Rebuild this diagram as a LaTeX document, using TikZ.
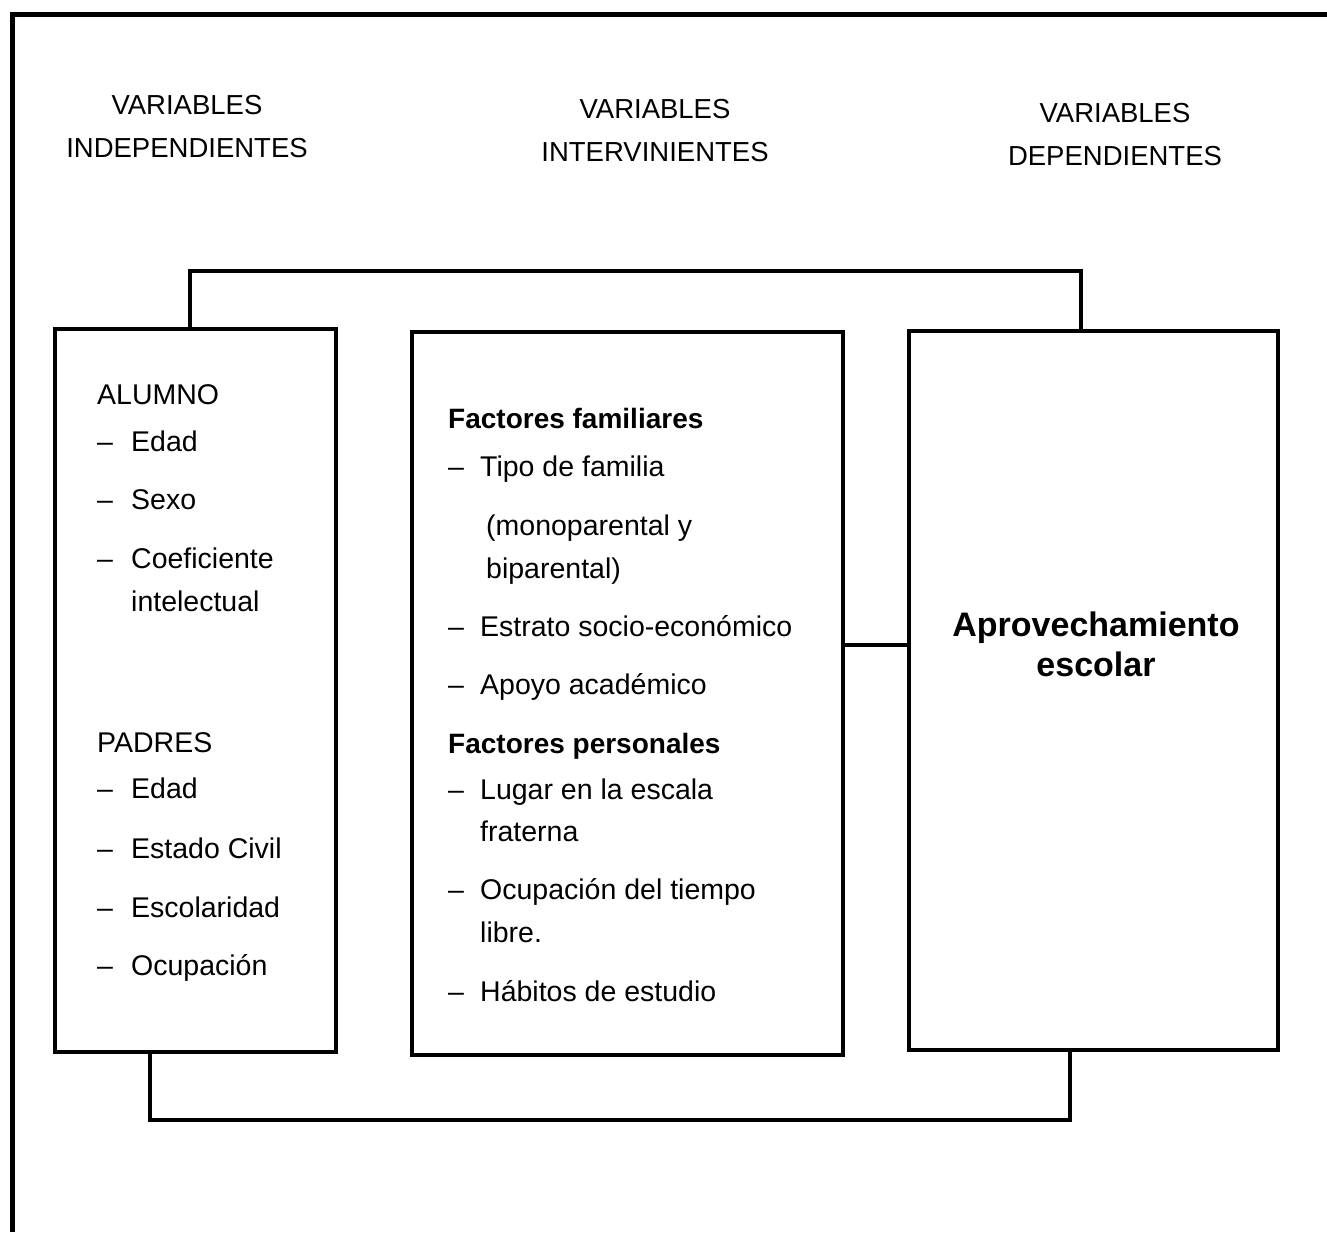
\documentclass[tikz,border=0pt]{standalone}
\usepackage{fontspec}
\setmainfont{Liberation Sans}
\begin{document}
\begin{tikzpicture}[x=1pt,y=-1pt,
  frame/.style={line width=5pt},
  box/.style={draw,line width=4pt,minimum width=#1,inner sep=0pt},
  link/.style={line width=4pt},
  hdr/.style={anchor=base,inner sep=0pt,font=\fontsize{27.5}{33}\selectfont},
  txt/.style={anchor=base west,inner sep=0pt,font=\fontsize{28.5}{34}\selectfont},
  btxt/.style={anchor=base west,inner sep=0pt,font=\fontsize{28}{34}\selectfont\bfseries},
  big/.style={anchor=base,inner sep=0pt,font=\fontsize{34}{40}\selectfont\bfseries}]
\useasboundingbox (0,0) rectangle (1327,1232);
% outer frame (top and left edges)
\draw[frame] (12,1232) -- (12,14) -- (1327,14);
% headers
\node[hdr] (h1a) at (187,114) {VARIABLES};
\node[hdr] (h1b) at (187,157) {INDEPENDIENTES};
\node[hdr] (h2a) at (655,118) {VARIABLES};
\node[hdr] (h2b) at (655,161) {INTERVINIENTES};
\node[hdr] (h3a) at (1115,122) {VARIABLES};
\node[hdr] (h3b) at (1115,165) {DEPENDIENTES};
% boxes
\node[box=281pt,minimum height=723pt] (lb) at (195.5,690.5) {};
\node[box=431pt,minimum height=723pt] (mb) at (627.5,693.5) {};
\node[box=369pt,minimum height=719pt] (rb) at (1093.5,690.5) {};
% connectors
\coordinate (t1) at (190,271);
\coordinate (t2) at (1081,271);
\coordinate (b1) at (150,1120);
\coordinate (b2) at (1070,1120);
\draw[link] (lb.north -| t1) -- (t1) -- (t2) -- (rb.north -| t2);
\draw[link] (lb.south -| b1) -- (b1) -- (b2) -- (rb.south -| b2);
\draw[link] (mb.east |- 0,645) -- (rb.west |- 0,645);
% left box text
\node[txt] (l0) at (97,404) {ALUMNO};
\node[txt] (l1d) at (97,451) {–};
\node[txt] (l1) at (131,451) {Edad};
\node[txt] (l2d) at (97,509) {–};
\node[txt] (l2) at (131,509) {Sexo};
\node[txt] (l3d) at (97,568) {–};
\node[txt] (l3) at (131,568) {Coeficiente};
\node[txt] (l3b) at (131,611) {intelectual};
\node[txt] (l4) at (97,752) {PADRES};
\node[txt] (l5d) at (97,798) {–};
\node[txt] (l5) at (131,798) {Edad};
\node[txt] (l6d) at (97,858) {–};
\node[txt] (l6) at (131,858) {Estado Civil};
\node[txt] (l7d) at (97,917) {–};
\node[txt] (l7) at (131,917) {Escolaridad};
\node[txt] (l8d) at (97,975) {–};
\node[txt] (l8) at (131,975) {Ocupación};
% middle box text
\node[btxt] (m0) at (448,428) {Factores familiares};
\node[txt] (m1d) at (448,476) {–};
\node[txt] (m1) at (480,476) {Tipo de familia};
\node[txt] (m1b) at (486,535) {(monoparental y};
\node[txt] (m1c) at (486,578) {biparental)};
\node[txt] (m2d) at (448,636) {–};
\node[txt] (m2) at (480,636) {Estrato socio-económico};
\node[txt] (m3d) at (448,694) {–};
\node[txt] (m3) at (480,694) {Apoyo académico};
\node[btxt] (m4) at (448,753) {Factores personales};
\node[txt] (m5d) at (448,799) {–};
\node[txt] (m5) at (480,799) {Lugar en la escala};
\node[txt] (m5b) at (480,841) {fraterna};
\node[txt] (m6d) at (448,899) {–};
\node[txt] (m6) at (480,899) {Ocupación del tiempo};
\node[txt] (m6b) at (480,942) {libre.};
\node[txt] (m7d) at (448,1001) {–};
\node[txt] (m7) at (480,1001) {Hábitos de estudio};
% right box text
\node[big] (r1) at (1096,636) {Aprovechamiento};
\node[big] (r2) at (1096,676) {escolar};
\end{tikzpicture}
\end{document}
